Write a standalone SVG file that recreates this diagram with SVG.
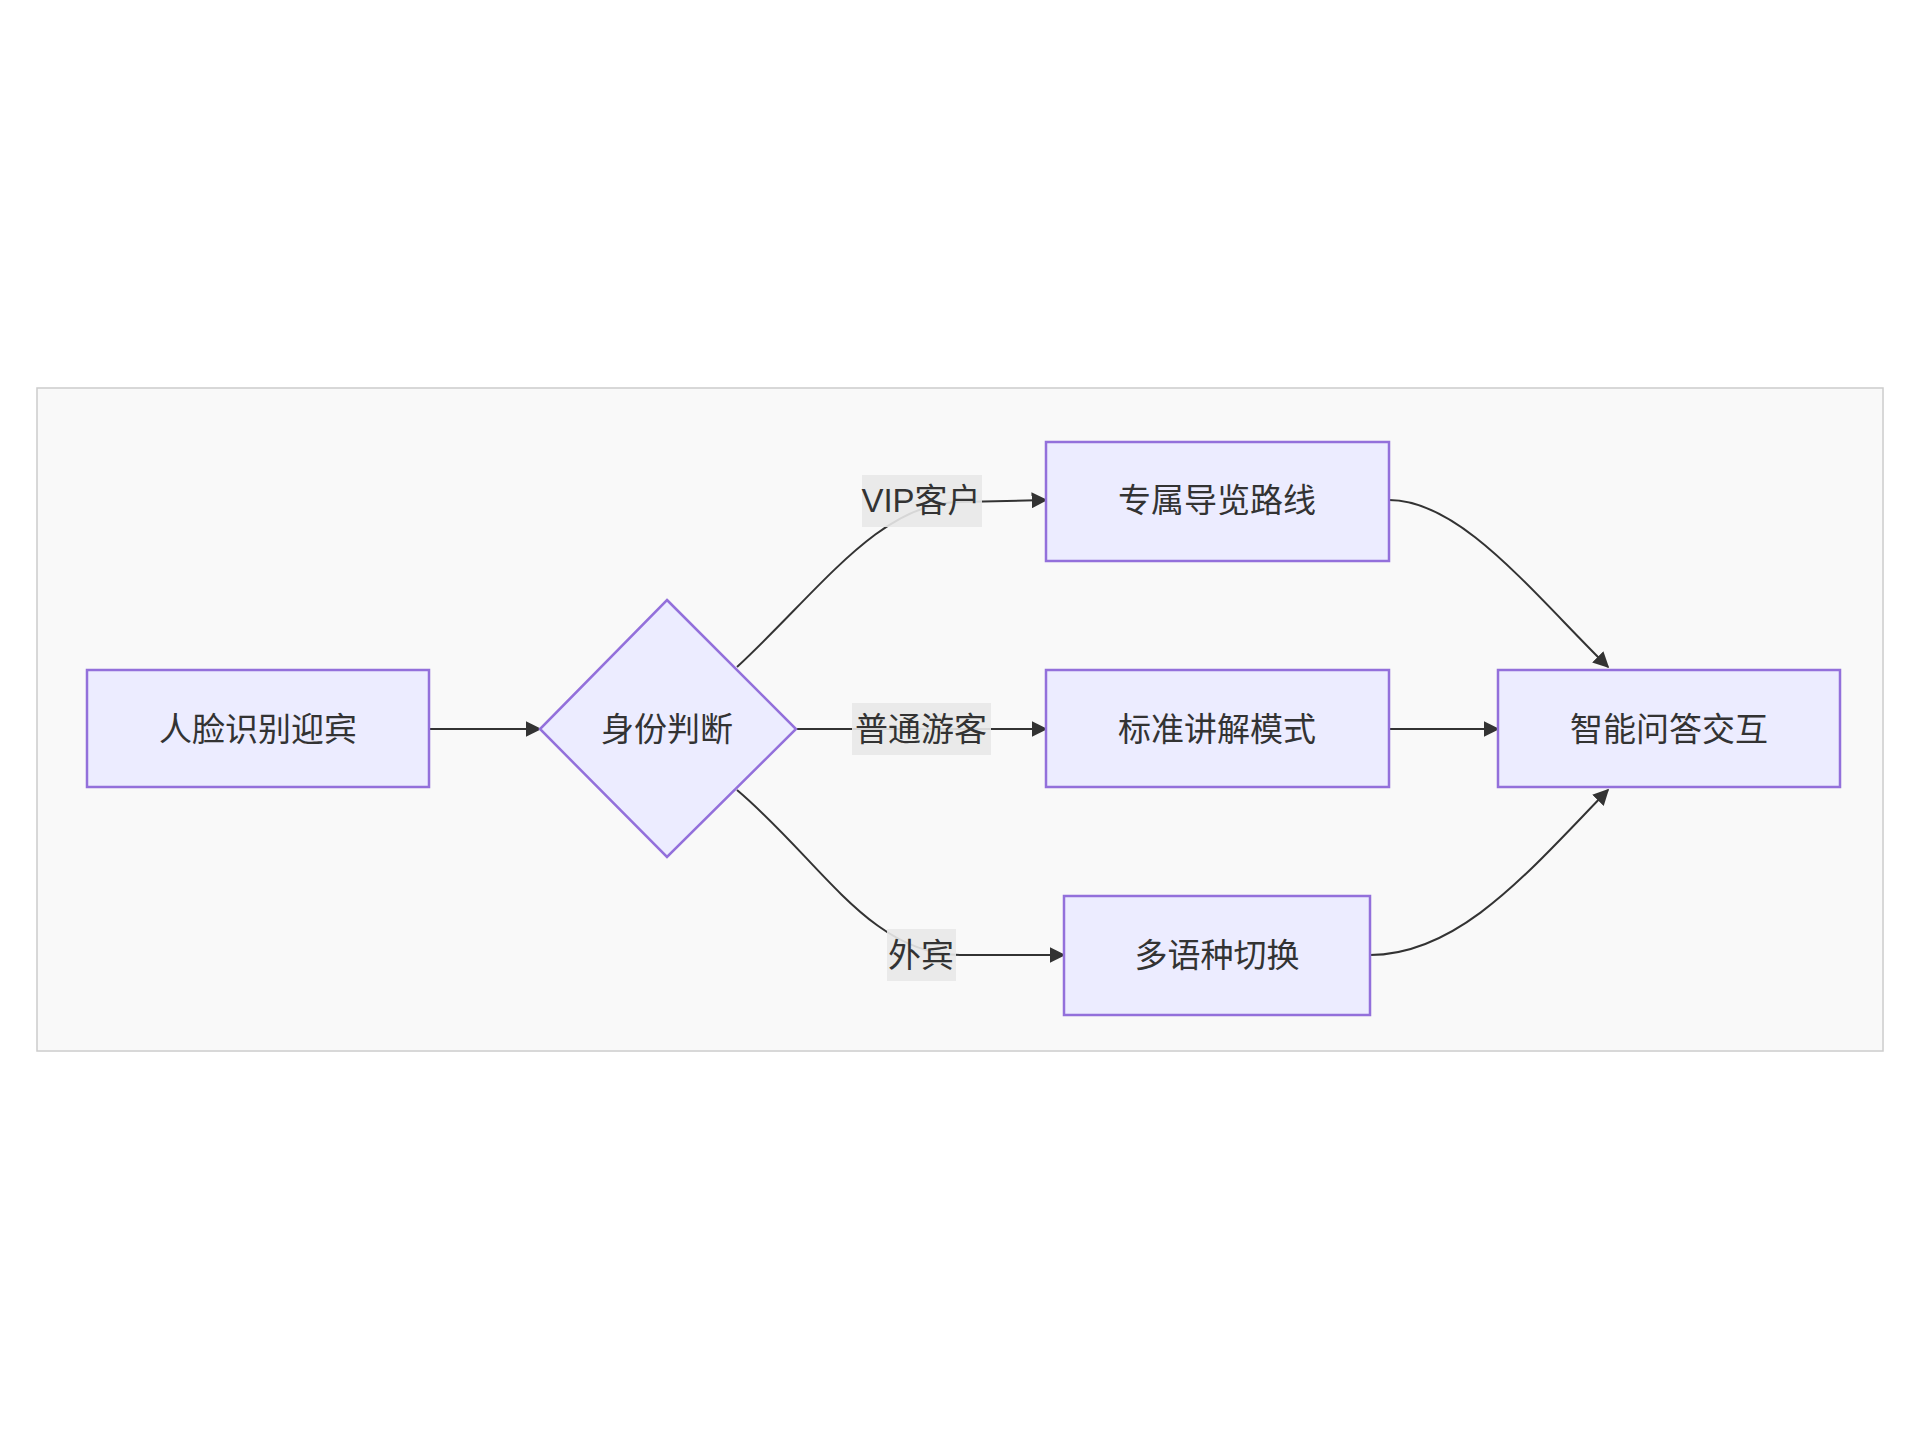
<svg xmlns="http://www.w3.org/2000/svg" width="1920" height="1440" viewBox="0 0 1920 1440">
<defs>
<style>
.n{fill:#ECECFF;stroke:#9370DB;stroke-width:2.5}
.t{font-family:"Liberation Sans","Noto Sans CJK SC",sans-serif;font-size:33px;fill:#333;text-anchor:middle;dominant-baseline:central}
.e{fill:none;stroke:#333;stroke-width:2}
.lb{fill:#e8e8e8;opacity:0.9}
</style>
<marker id="a" viewBox="0 0 10 10" refX="9" refY="5" markerWidth="8" markerHeight="8" orient="auto"><path d="M0,0L10,5L0,10z" fill="#333"/></marker>
</defs>
<rect width="1920" height="1440" fill="#fff"/>
<rect x="37" y="388" width="1846" height="663" fill="#f9f9f9" stroke="#ccc" stroke-width="1.5"/>
<g id="edges">
<path class="e" d="M429,729L540,729" marker-end="url(#a)"/>
<path class="e" d="M737,667C820,590 880,502 960,502L1046,500" marker-end="url(#a)"/>
<path class="e" d="M796,729L1046,729" marker-end="url(#a)"/>
<path class="e" d="M737,790C820,860 870,955 960,955L1064,955" marker-end="url(#a)"/>
<path class="e" d="M1389,500C1460,500 1530,590 1608,667" marker-end="url(#a)"/>
<path class="e" d="M1389,729L1498,729" marker-end="url(#a)"/>
<path class="e" d="M1370,955C1460,955 1530,870 1608,790" marker-end="url(#a)"/>
<rect class="lb" x="862" y="475" width="120" height="52"/><text class="t" x="921" y="500">VIP客户</text>
<rect class="lb" x="852" y="703" width="139" height="52"/><text class="t" x="921" y="729">普通游客</text>
<rect class="lb" x="887" y="929" width="69" height="52"/><text class="t" x="921" y="955">外宾</text>
</g>
<g id="A"><rect class="n" x="87" y="670" width="342" height="117"/><text class="t" x="258" y="729">人脸识别迎宾</text></g>
<g id="B"><path class="n" d="M667,600L796,729L667,857L540,729z"/><text class="t" x="667" y="729">身份判断</text></g>
<g id="C"><rect class="n" x="1046" y="442" width="343" height="119"/><text class="t" x="1217" y="500">专属导览路线</text></g>
<g id="D"><rect class="n" x="1046" y="670" width="343" height="117"/><text class="t" x="1217" y="729">标准讲解模式</text></g>
<g id="E"><rect class="n" x="1064" y="896" width="306" height="119"/><text class="t" x="1217" y="955">多语种切换</text></g>
<g id="F"><rect class="n" x="1498" y="670" width="342" height="117"/><text class="t" x="1669" y="729">智能问答交互</text></g>
</svg>
